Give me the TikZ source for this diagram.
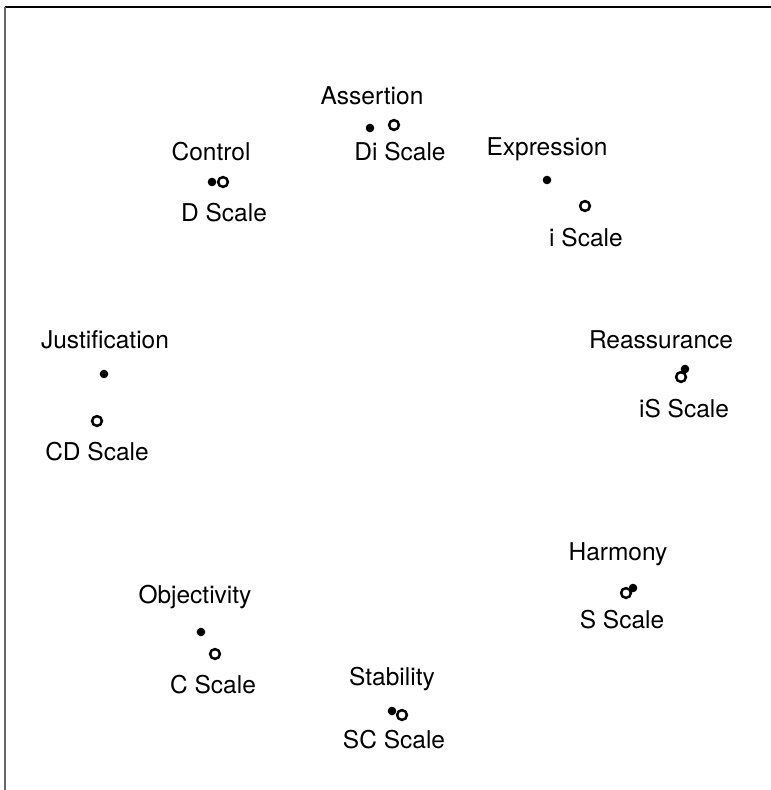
\documentclass[tikz,border=0pt]{standalone}
\usepackage{fontspec}
\setmainfont{TeX Gyre Heros}
\usepackage{tikz}
\def\fdot{\node[fulldot]}
\def\hdot{\node[hollowdot]}
\def\word{\node[word]}

\begin{document}
\begin{tikzpicture}[x=1pt,y=-1pt,
    fulldot/.style={circle,fill,inner sep=0pt,minimum size=8.6pt},
    hollowdot/.style={circle,draw,line width=2.5pt,inner sep=0pt,minimum size=9.8pt},
    word/.style={anchor=base,inner sep=0pt,font=\fontsize{24.5}{28}\selectfont}]
    \useasboundingbox (0,0) rectangle (771,790);
    \draw[line width=1.3pt] (771,7) -- (5,7);
    \draw[line width=1.5pt,black!60] (5,7) -- (5,790);
    % Assertion / Di
    \word (asl) at (372,104) {Assertion};
    \fdot (asf) at (370,128) {};
    \hdot (ash) at (394,125) {};
    \word (dis) at (400,160) {Di Scale};
    % Control / D
    \word (col) at (211,160) {Control};
    \fdot (cof) at (212,182) {};
    \hdot (coh) at (223,182) {};
    \word (ds) at (224,221) {D Scale};
    % Expression / i
    \word (exl) at (547,155) {Expression};
    \fdot (exf) at (547,180) {};
    \hdot (exh) at (585,206) {};
    \word (is) at (586,246) {i Scale};
    % Justification / CD
    \word (jul) at (105,348) {Justification};
    \fdot (juf) at (104,374) {};
    \hdot (juh) at (97,421) {};
    \word (cds) at (97,460) {CD Scale};
    % Reassurance / iS
    \word (rel) at (661,348) {Reassurance};
    \hdot (reh) at (681,377) {};
    \fdot (ref) at (685,369) {};
    \word (iss) at (684,417) {iS Scale};
    % Harmony / S
    \word (hal) at (618,560) {Harmony};
    \hdot (hah) at (626,593) {};
    \fdot (haf) at (633,588) {};
    \word (ss) at (622,628) {S Scale};
    % Objectivity / C
    \word (obl) at (195,603) {Objectivity};
    \fdot (obf) at (201,632) {};
    \hdot (obh) at (215,654) {};
    \word (cs) at (213,693) {C Scale};
    % Stability / SC
    \word (stl) at (392,685) {Stability};
    \fdot (stf) at (392,711) {};
    \hdot (sth) at (402,715) {};
    \word (scs) at (394,748) {SC Scale};
\end{tikzpicture}
\end{document}
